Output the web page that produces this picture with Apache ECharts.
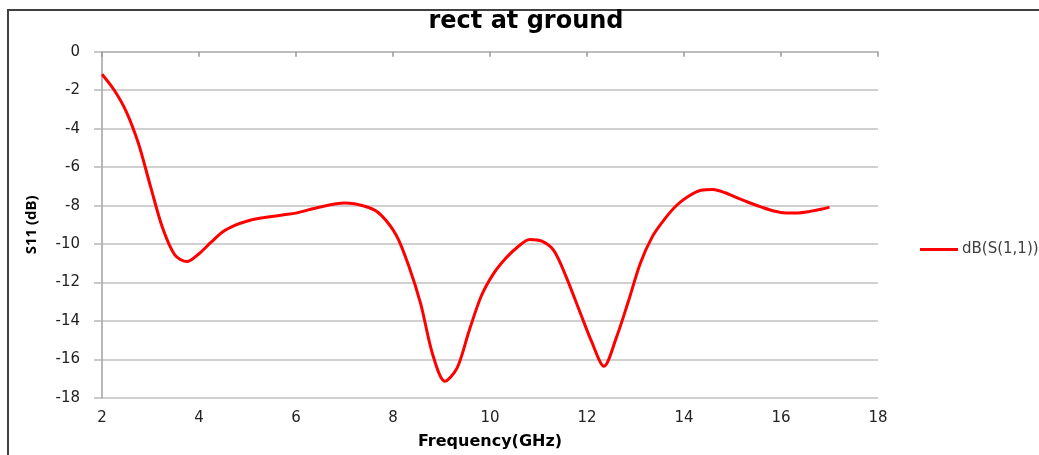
<!DOCTYPE html>
<html>
<head>
<meta charset="utf-8">
<title>rect at ground</title>
<script src="https://cdn.jsdelivr.net/npm/echarts@6/dist/echarts.min.js"></script>
<style>
  html, body { margin: 0; padding: 0; background: #fff; }
  #chart { width: 1039px; height: 455px; }
</style>
</head>
<body>
<div id="chart"></div>
<script>
// Return loss of the rectangular patch with ground, sampled along frequency (GHz)
const freqGHz = [2, 2.25, 2.5, 2.75, 3.0, 3.25, 3.5, 3.75, 4.0, 4.25, 4.5, 4.75, 5.0, 5.25, 5.5, 5.75, 6.0, 6.5, 7.0, 7.5, 7.75, 8.07, 8.32, 8.57, 8.82, 9.07, 9.32, 9.57, 9.82, 10.07, 10.32, 10.57, 10.82, 11.07, 11.32, 11.57, 11.85, 12.1, 12.35, 12.6, 12.85, 13.1, 13.35, 13.6, 13.85, 14.1, 14.35, 14.6, 14.85, 15.1, 15.35, 15.6, 15.85, 16.1, 16.35, 16.6, 16.85, 17.0];
const s11dB = [-1.17, -1.99, -3.11, -4.76, -7.0, -9.17, -10.56, -10.91, -10.5, -9.9, -9.35, -9.02, -8.8, -8.66, -8.57, -8.48, -8.39, -8.07, -7.87, -8.1, -8.48, -9.55, -11.1, -13.1, -15.75, -17.13, -16.45, -14.5, -12.7, -11.55, -10.75, -10.15, -9.76, -9.85, -10.35, -11.7, -13.5, -15.1, -16.35, -14.9, -13.0, -11.0, -9.6, -8.7, -7.98, -7.5, -7.2, -7.16, -7.33, -7.6, -7.85, -8.08, -8.28, -8.38, -8.38, -8.3, -8.18, -8.08];
const seriesName = 'dB(S(1,1))';
const titleText = 'rect at ground';
const xTitle = 'Frequency(GHz)';
const yTitle = 'S11 (dB)';

const points = freqGHz.map((f, i) => [f, s11dB[i]]);
const wideFont = '"DejaVu Sans", Verdana, sans-serif';
const narrowFont = '"Open Sans", "DejaVu Sans", sans-serif';

const chart = echarts.init(document.getElementById('chart'), null, { renderer: 'canvas' });
chart.setOption({
  animation: false,
  backgroundColor: '#ffffff',
  title: {
    text: titleText,
    left: 521,
    top: 5,
    textAlign: 'center',
    textStyle: { fontFamily: wideFont, fontSize: 24, fontWeight: 'bold', color: '#000' }
  },
  graphic: [
    {
      // chart frame: left and top edges inside the page
      type: 'polyline',
      shape: { points: [[8, 455], [8, 10], [1039, 10]] },
      style: { fill: null, stroke: '#404040', lineWidth: 2 },
      silent: true,
      z: 0
    }
  ],
  legend: {
    left: 920,
    top: 242,
    padding: 0,
    icon: 'rect',
    itemWidth: 38,
    itemHeight: 3,
    itemGap: 4,
    textStyle: { fontFamily: wideFont, fontSize: 15, color: '#404040', padding: [0, 0, 0, -1] },
    data: [seriesName]
  },
  grid: { left: 102, right: 161, top: 51.7, bottom: 56.7, containLabel: false },
  xAxis: [
    {
      type: 'value',
      position: 'bottom',
      min: 2, max: 18, interval: 2,
      name: xTitle,
      nameLocation: 'middle',
      nameGap: 36,
      nameTextStyle: { fontFamily: wideFont, fontSize: 16, fontWeight: 'bold', color: '#000' },
      axisLine: { show: false },
      axisTick: { show: false },
      splitLine: { show: false },
      axisLabel: { fontFamily: wideFont, fontSize: 15, color: '#222', margin: 13 }
    },
    {
      type: 'value',
      position: 'top',
      min: 2, max: 18, interval: 2,
      axisLine: { show: true, lineStyle: { color: '#b8b8b8', width: 1.5 } },
      axisTick: { show: true, inside: true, length: 5, lineStyle: { color: '#999', width: 1.5 } },
      axisLabel: { show: false },
      splitLine: { show: false }
    }
  ],
  yAxis: {
    type: 'value',
    min: -18, max: 0, interval: 2,
    name: yTitle,
    nameLocation: 'middle',
    nameGap: 63,
    nameRotate: 90,
    nameTextStyle: { fontFamily: narrowFont, fontSize: 15, fontWeight: 'bold', color: '#000' },
    axisLine: { show: true, onZero: false, lineStyle: { color: '#a0a0a0', width: 1.5 } },
    axisTick: { show: true, length: 8, lineStyle: { color: '#b8b8b8', width: 1.5 } },
    axisLabel: { fontFamily: wideFont, fontSize: 15, color: '#222', margin: 22 },
    splitLine: { show: true, lineStyle: { color: '#c0c0c0', width: 1.5 } }
  },
  series: [
    {
      name: seriesName,
      type: 'line',
      xAxisIndex: 0,
      data: points,
      smooth: 0.3,
      showSymbol: false,
      symbol: 'none',
      lineStyle: { color: '#ff0000', width: 3 },
      itemStyle: { color: '#ff0000' },
      z: 5
    }
  ]
});
</script>
</body>
</html>
